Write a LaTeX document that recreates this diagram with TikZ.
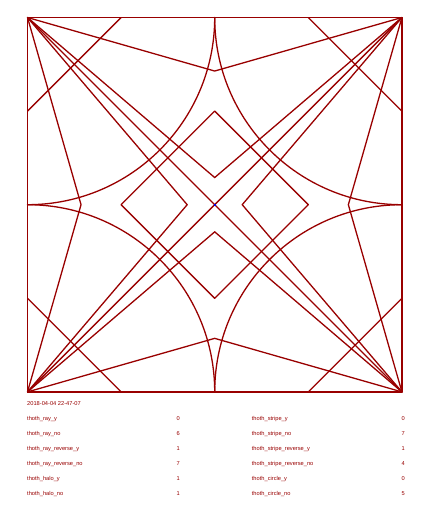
\documentclass[tikz,border=0pt]{standalone}
\usepackage{fontspec}
\setmainfont{Liberation Sans}
\definecolor{thoth}{RGB}{153,0,0}
\definecolor{dotblue}{RGB}{0,0,230}
\begin{document}
\begin{tikzpicture}[x=1pt,y=-1pt,
  ln/.style={draw=thoth,line width=1.3pt,line join=round,line cap=round},
  lbl/.style={text=thoth,font=\fontsize{5.7}{6.5}\selectfont,inner sep=0pt},
  lab/.style={lbl,anchor=west},
  val/.style={lbl,anchor=center}]
\useasboundingbox (0,0) rectangle (434,516);
\fill[white] (0,0) rectangle (434,516);
\begin{scope}[shift={(214.7,204.7)},x={(187.2pt,0pt)},y={(0pt,187.2pt)}]
  % corners and key points
  \coordinate (TL) at (-1,1);
  \coordinate (TR) at (1,1);
  \coordinate (BR) at (1,-1);
  \coordinate (BL) at (-1,-1);
  \coordinate (O) at (0,0);
  \coordinate (rt) at (0,0.714);
  \coordinate (rr) at (0.714,0);
  \coordinate (rb) at (0,-0.714);
  \coordinate (rl) at (-0.714,0);
  \coordinate (it) at (0,0.145);
  \coordinate (ir) at (0.147,0);
  \coordinate (ib) at (0,-0.145);
  \coordinate (il) at (-0.147,0);
  \coordinate (dt) at (0,0.5);
  \coordinate (dr) at (0.5,0);
  \coordinate (db) at (0,-0.5);
  \coordinate (dl) at (-0.5,0);
  \coordinate (mt) at (0,1);
  \coordinate (mr) at (1,0);
  \coordinate (mb) at (0,-1);
  \coordinate (ml) at (-1,0);
  % square
  \draw[ln] (TL) -- (TR) -- (BR) -- (BL) -- cycle;
  % corner cuts
  \draw[ln] (-0.5,1) -- (-1,0.5);
  \draw[ln] (0.5,1) -- (1,0.5);
  \draw[ln] (1,-0.5) -- (0.5,-1);
  \draw[ln] (-0.5,-1) -- (-1,-0.5);
  % roofs
  \draw[ln] (TL) -- (rt) -- (TR);
  \draw[ln] (TR) -- (rr) -- (BR);
  \draw[ln] (BR) -- (rb) -- (BL);
  \draw[ln] (BL) -- (rl) -- (TL);
  % quarter circles centred at the corners
  \draw[ln] (mt) arc[start angle=0,end angle=-90,radius=1];
  \draw[ln] (mt) arc[start angle=180,end angle=270,radius=1];
  \draw[ln] (mr) arc[start angle=90,end angle=180,radius=1];
  \draw[ln] (mb) arc[start angle=0,end angle=90,radius=1];
  % rays
  \draw[ln] (TL) -- (O);  \draw[ln] (TL) -- (it); \draw[ln] (TL) -- (il);
  \draw[ln] (TR) -- (O);  \draw[ln] (TR) -- (it); \draw[ln] (TR) -- (ir);
  \draw[ln] (BR) -- (O);  \draw[ln] (BR) -- (ib); \draw[ln] (BR) -- (ir);
  \draw[ln] (BL) -- (O);  \draw[ln] (BL) -- (ib); \draw[ln] (BL) -- (il);
  % central diamond
  \draw[ln] (dt) -- (dr) -- (db) -- (dl) -- cycle;
  % centre dot
  \fill[dotblue] (-0.006,-0.006) rectangle (0.006,0.006);
\end{scope}
% texts
\node[lab] (date) at (27,404) {2018-04-04 22-47-07};
\node[lab] (n1) at (27,419) {thoth\_ray\_y};
\node[lab] (n2) at (27,434) {thoth\_ray\_no};
\node[lab] (n3) at (27,449) {thoth\_ray\_reverse\_y};
\node[lab] (n4) at (27,464) {thoth\_ray\_reverse\_no};
\node[lab] (n5) at (27,479) {thoth\_halo\_y};
\node[lab] (n6) at (27,494) {thoth\_halo\_no};
\node[val] (v1) at (178.3,419) {0};
\node[val] (v2) at (178.3,434) {6};
\node[val] (v3) at (178.3,449) {1};
\node[val] (v4) at (178.3,464) {7};
\node[val] (v5) at (178.3,479) {1};
\node[val] (v6) at (178.3,494) {1};
\node[lab] (m1) at (251.7,419) {thoth\_stripe\_y};
\node[lab] (m2) at (251.7,434) {thoth\_stripe\_no};
\node[lab] (m3) at (251.7,449) {thoth\_stripe\_reverse\_y};
\node[lab] (m4) at (251.7,464) {thoth\_stripe\_reverse\_no};
\node[lab] (m5) at (251.7,479) {thoth\_circle\_y};
\node[lab] (m6) at (251.7,494) {thoth\_circle\_no};
\node[val] (w1) at (403.3,419) {0};
\node[val] (w2) at (403.3,434) {7};
\node[val] (w3) at (403.3,449) {1};
\node[val] (w4) at (403.3,464) {4};
\node[val] (w5) at (403.3,479) {0};
\node[val] (w6) at (403.3,494) {5};
\end{tikzpicture}
\end{document}
